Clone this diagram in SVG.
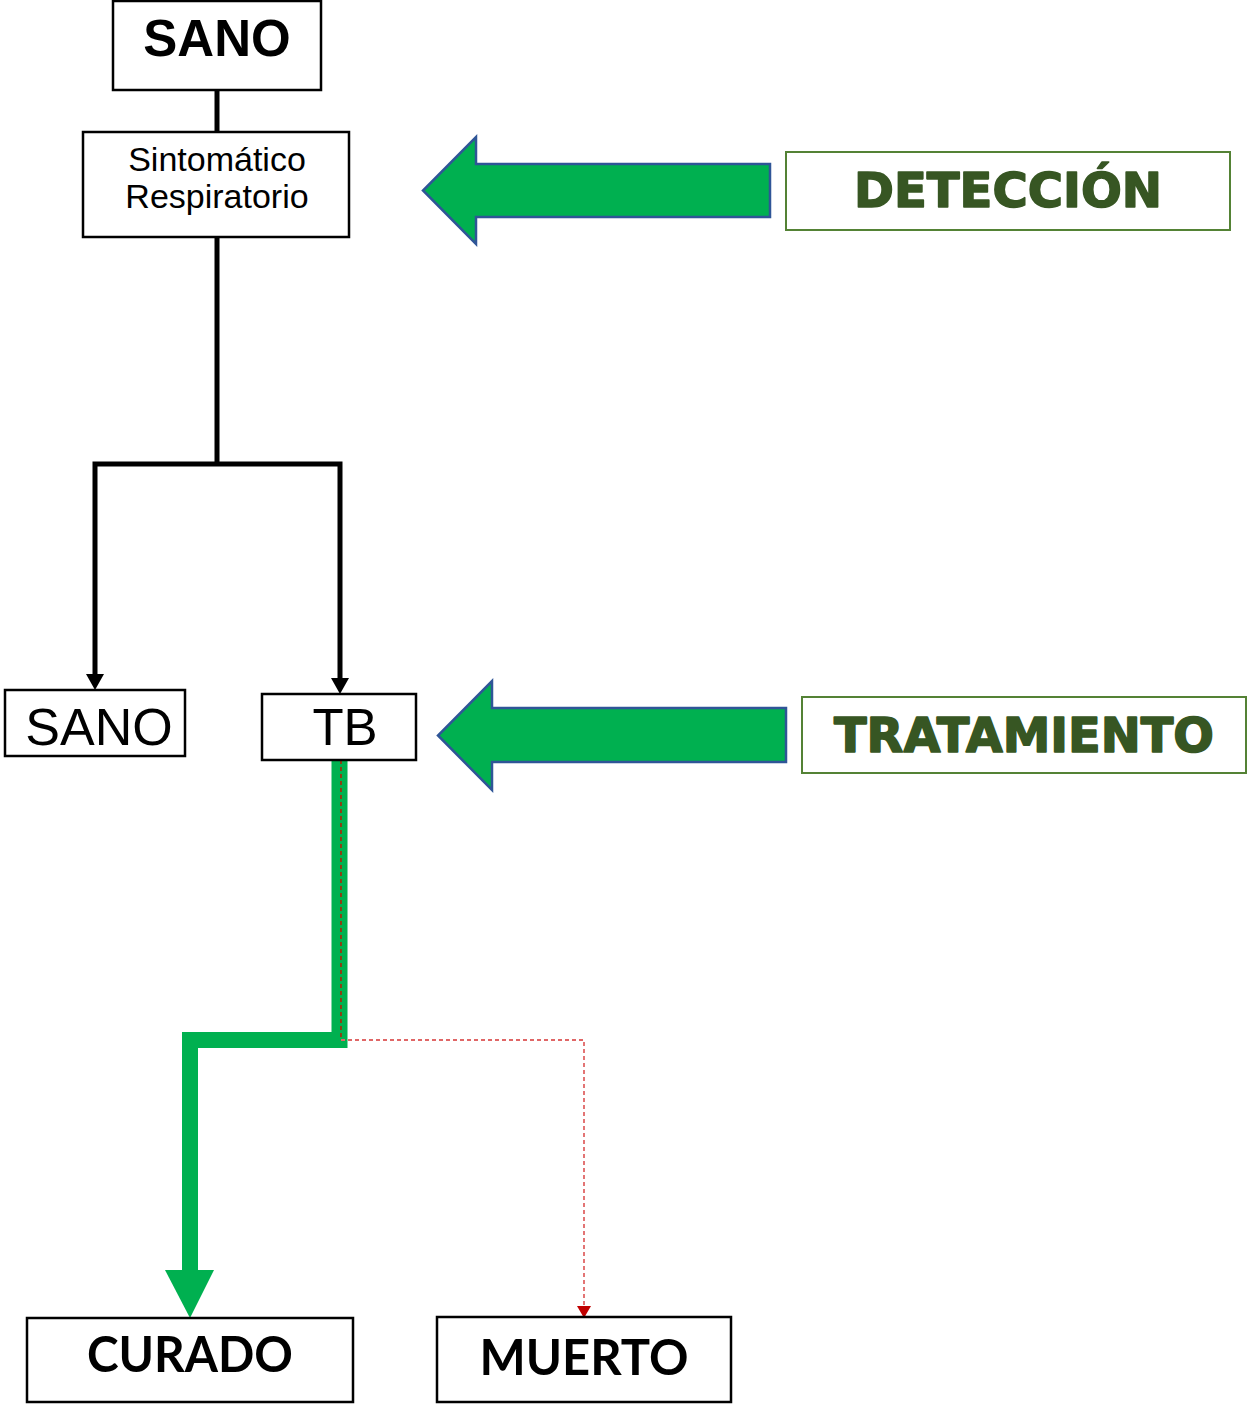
<svg xmlns="http://www.w3.org/2000/svg" width="1250" height="1404" viewBox="0 0 1250 1404">
<style>
.box{fill:#fff;stroke:#000;stroke-width:2.5}
.gbox{fill:#fff;stroke:#548235;stroke-width:2}
.bigarrow{fill:#00b050;stroke:#2f5597;stroke-width:2.5;stroke-linejoin:miter}
.t{font-family:"Liberation Sans",Arial,sans-serif;text-anchor:middle;fill:#000}
.g{font-family:"DejaVu Sans","Liberation Sans",sans-serif;font-weight:bold;text-anchor:middle;fill:#375623;stroke:#375623;stroke-width:1.6;stroke-linejoin:round}
.c{font-family:Lato,"Open Sans",sans-serif;font-weight:bold;text-anchor:middle;fill:#000}
</style>
<g id="connectors">
<line x1="217" y1="90" x2="217" y2="132" stroke="#000" stroke-width="5"/>
<line x1="217" y1="237" x2="217" y2="464" stroke="#000" stroke-width="5"/>
<path d="M95,678 V464 H340 V682" stroke="#000" stroke-width="5" fill="none" stroke-linejoin="miter"/>
<path d="M95,690 L86,674 L104,674 Z" fill="#000"/>
<path d="M340,694 L331,678 L349,678 Z" fill="#000"/>
<path d="M339.5,760 V1040 H190 V1272" stroke="#00b050" stroke-width="16" fill="none" stroke-linejoin="miter"/>
<path d="M165,1270 L214,1270 L190,1318 Z" fill="#00b050"/>
<path d="M341,760 V1040 H584 V1306" stroke="#e06666" stroke-width="1.8" stroke-dasharray="4,3" fill="none"/>
<line x1="341" y1="760" x2="341" y2="1040" stroke="#843c0c" stroke-width="1.8" stroke-dasharray="4,3"/>
<path d="M577,1306 L591,1306 L584,1318 Z" fill="#c00000"/>
</g>
<g id="sano-top">
<rect class="box" x="113" y="1" width="208" height="89"/>
<text class="t" x="217" y="56" font-size="51" font-weight="bold">SANO</text>
</g>
<g id="sintomatico">
<rect class="box" x="83" y="132" width="266" height="105"/>
<text class="t" x="217" y="171" font-size="34">Sintomático</text>
<text class="t" x="217" y="208" font-size="34">Respiratorio</text>
</g>
<g id="sano-bottom">
<rect class="box" x="5" y="690" width="180" height="66"/>
<text class="t" x="99" y="745" font-size="52">SANO</text>
</g>
<g id="tb">
<rect class="box" x="262" y="694" width="154" height="66"/>
<text class="t" x="345" y="745" font-size="51">TB</text>
</g>
<g id="curado">
<rect class="box" x="27" y="1318" width="326" height="84" stroke-width="3"/>
<text class="c" x="190" y="1372" font-size="50" textLength="206" lengthAdjust="spacingAndGlyphs">CURADO</text>
</g>
<g id="muerto">
<rect class="box" x="437" y="1317" width="294" height="85" stroke-width="3"/>
<text class="c" x="584" y="1375" font-size="50" textLength="209" lengthAdjust="spacingAndGlyphs">MUERTO</text>
</g>
<g id="arrow-deteccion">
<path class="bigarrow" d="M770,164 H476 V137 L423,190.5 L476,244 V217 H770 Z"/>
</g>
<g id="deteccion">
<rect class="gbox" x="786" y="152" width="444" height="78"/>
<text class="g" x="1008" y="207" font-size="48" textLength="308" lengthAdjust="spacingAndGlyphs">DETECCIÓN</text>
</g>
<g id="arrow-tratamiento">
<path class="bigarrow" d="M786,708 H492 V681 L438,735.5 L492,790 V762 H786 Z"/>
</g>
<g id="tratamiento">
<rect class="gbox" x="802" y="697" width="444" height="76"/>
<text class="g" x="1024" y="752" font-size="48" textLength="380" lengthAdjust="spacingAndGlyphs">TRATAMIENTO</text>
</g>
</svg>
